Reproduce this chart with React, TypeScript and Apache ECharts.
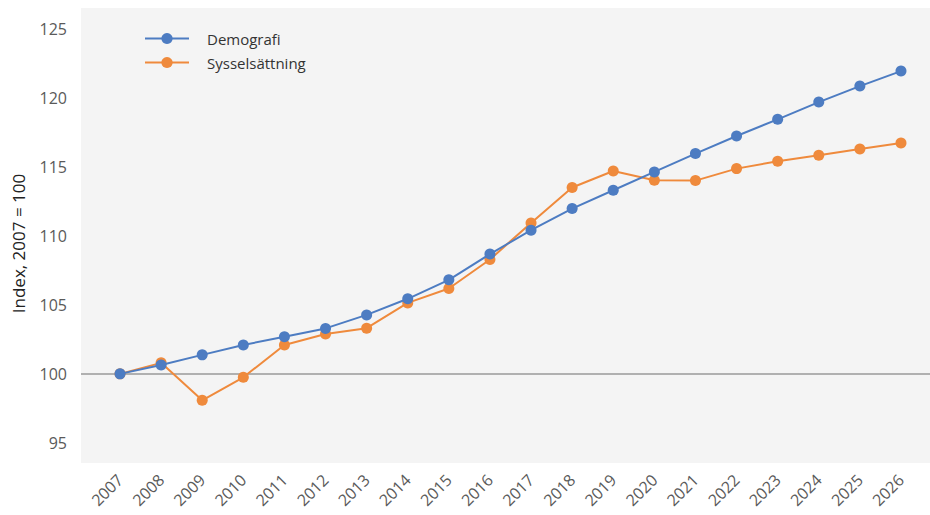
import React, { useEffect, useRef } from "react";
import * as echarts from "echarts";

const years = ["2007","2008","2009","2010","2011","2012","2013","2014","2015","2016","2017","2018","2019","2020","2021","2022","2023","2024","2025","2026"];
const demografi = [100, 100.65, 101.38, 102.1, 102.7, 103.3, 104.28, 105.45, 106.83, 108.7, 110.43, 112.0, 113.33, 114.66, 115.99, 117.27, 118.48, 119.73, 120.89, 121.98];
const sysselsattning = [100, 100.8, 98.08, 99.75, 102.1, 102.9, 103.32, 105.15, 106.2, 108.3, 110.96, 113.53, 114.73, 114.06, 114.03, 114.9, 115.43, 115.87, 116.33, 116.76];
const yTicks = [95, 100, 105, 110, 115, 120, 125];
const baseline = 100;

const BLUE = "#4d7cc2";
const ORANGE = "#ef8a3c";
const FONT = "'Open Sans', sans-serif";

export default function App() {
  const ref = useRef<HTMLDivElement>(null);
  useEffect(() => {
    if (!ref.current) return;
    const chart = echarts.init(ref.current, null, { renderer: "svg" });
    const idx = years.map((_, i) => i);
    chart.setOption({
      animation: false,
      backgroundColor: "#ffffff",
      textStyle: { fontFamily: FONT },
      grid: {
        left: 81, right: 0, top: 8, bottom: 52,
        show: true, backgroundColor: "#f4f4f4", borderWidth: 0,
      },
      legend: {
        orient: "vertical", left: 139, top: 26, itemGap: 9,
        itemWidth: 44, itemHeight: 14,
        textStyle: { fontSize: 15, color: "#333", fontFamily: FONT, padding: [0, 0, 0, 13] },
        data: ["Demografi", "Sysselsättning"],
      },
      xAxis: {
        type: "value", min: -0.949, max: 19.706,
        axisLine: { show: false }, axisTick: { show: false, customValues: idx },
        splitLine: { show: false },
        axisLabel: {
          customValues: idx, rotate: 45, margin: 14,
          fontSize: 16, color: "#5a5a5a", fontFamily: FONT,
          formatter: (v: number) => years[Math.round(v)] ?? "",
        },
      },
      yAxis: {
        type: "value", min: 93.53, max: 126.56,
        name: "Index, 2007 = 100", nameLocation: "middle", nameGap: 54,
        nameTextStyle: { fontSize: 17, color: "#222", fontFamily: FONT, padding: [0, 16, 0, 0] },
        axisLine: { show: false }, axisTick: { show: false },
        splitLine: { show: false },
        axisLabel: { customValues: yTicks, margin: 14, fontSize: 16, color: "#5a5a5a", fontFamily: FONT },
      },
      series: [
        {
          name: "Demografi", type: "line",
          data: demografi.map((v, i) => [i, v]),
          symbol: "circle", symbolSize: 11,
          lineStyle: { color: BLUE, width: 2 },
          itemStyle: { color: BLUE },
          z: 3,
          markLine: {
            silent: true, symbol: "none", label: { show: false },
            lineStyle: { color: "#9a9a9a", width: 1.5, type: "solid" },
            data: [{ yAxis: baseline }],
            z: 1,
          },
        },
        {
          name: "Sysselsättning", type: "line",
          data: sysselsattning.map((v, i) => [i, v]),
          symbol: "circle", symbolSize: 11,
          lineStyle: { color: ORANGE, width: 2 },
          itemStyle: { color: ORANGE },
          z: 2,
        },
      ],
    });
    return () => chart.dispose();
  }, []);
  return <div ref={ref} style={{ width: 930, height: 515, position: "absolute", left: 0, top: 0 }} />;
}
